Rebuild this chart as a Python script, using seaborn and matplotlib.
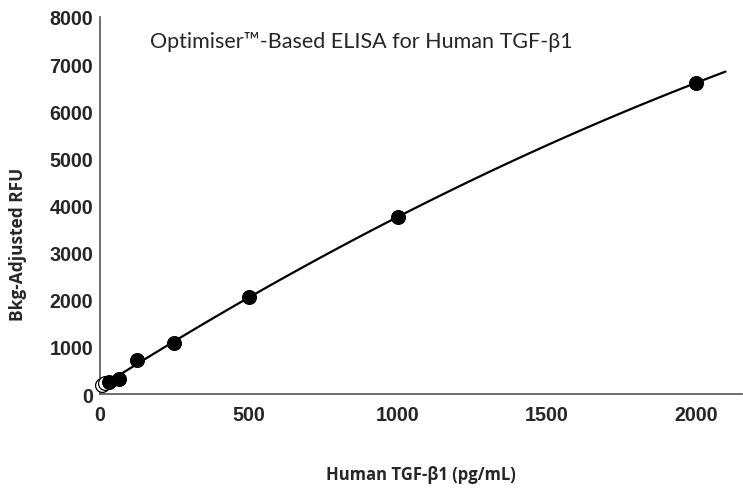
import numpy as np
import pandas as pd
import matplotlib
matplotlib.use('Agg')
import matplotlib.pyplot as plt
import seaborn as sns

# standards
conc = [31.25, 62.5, 125, 250, 500, 1000, 2000]
rfu = [260, 320, 720, 1080, 2060, 3760, 6600]
# low standards drawn as open circles
conc_low = [7.8, 15.6]
rfu_low = [190, 230]

x_ticks = [0, 500, 1000, 1500, 2000]
y_ticks = [0, 1000, 2000, 3000, 4000, 5000, 6000, 7000, 8000]

df = pd.DataFrame({'conc': conc_low + conc, 'rfu': rfu_low + rfu})
df_fill = pd.DataFrame({'conc': conc, 'rfu': rfu})
df_low = pd.DataFrame({'conc': conc_low, 'rfu': rfu_low})

sns.set_style('white')
fig = plt.figure(figsize=(7.43, 4.89), dpi=100)
ax = fig.add_axes([0.1346, 0.1922, 0.864, 0.771])

# fitted standard curve (2nd order), drawn out to 2100
ax.set_xlim(0, 2100)
sns.regplot(data=df, x='conc', y='rfu', order=2, ci=None, truncate=False,
            scatter=False, color='black', line_kws={'lw': 1.6}, ax=ax)

sns.scatterplot(data=df_low, x='conc', y='rfu', s=100, color='white',
                edgecolor='black', linewidth=0.9, ax=ax, zorder=3, clip_on=False)
sns.scatterplot(data=df_fill, x='conc', y='rfu', s=100, color='black',
                edgecolor='black', ax=ax, zorder=4, clip_on=False)

ax.set_xlim(0, 2155)
ax.set_ylim(0, 8000)
ax.set_xticks(x_ticks)
ax.set_yticks(y_ticks)

tick_font = {'family': ['Liberation Sans', 'DejaVu Sans'], 'weight': 'bold', 'size': 14.2}
ax.set_xticklabels([str(t) for t in x_ticks], fontdict=tick_font)
ax.set_yticklabels([str(t) for t in y_ticks], fontdict=tick_font)
ax.tick_params(axis='x', direction='in', length=4, width=1, color='#555555', pad=8)
ax.tick_params(axis='y', direction='out', length=4, width=1, color='#555555', pad=1)

for s in ['top', 'right']:
    ax.spines[s].set_visible(False)
for s in ['left', 'bottom']:
    ax.spines[s].set_color('#555555')
    ax.spines[s].set_linewidth(1.2)

ax.set_xlabel('')
ax.set_ylabel('')
fig.text(0.5666, 0.029, 'Human TGF-β1 (pg/mL)', ha='center', va='center',
         family=['Open Sans', 'DejaVu Sans'], weight='bold', fontsize=12)
fig.text(0.024, 0.5, 'Bkg-Adjusted RFU', ha='center', va='center', rotation=90,
         family=['Open Sans', 'DejaVu Sans'], weight='bold', fontsize=12.5)
ax.text(0.407, 0.936, 'Optimiser™-Based ELISA for Human TGF-β1', transform=ax.transAxes,
        ha='center', va='center', family=['Lato', 'DejaVu Sans'], fontsize=15.5)

fig.savefig('out.png', dpi=100)
